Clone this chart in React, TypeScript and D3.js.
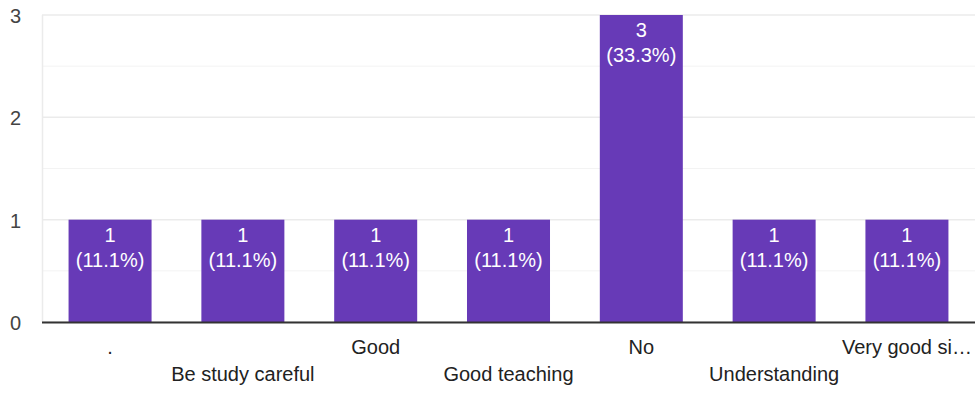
import React from "react";
import * as d3 from "d3";

const categories = [".", "Be study careful", "Good", "Good teaching", "No", "Understanding", "Very good si…"];
const values = [1, 1, 1, 1, 3, 1, 1];
const percents = ["11.1%", "11.1%", "11.1%", "11.1%", "33.3%", "11.1%", "11.1%"];
const yTicks = [0, 1, 2, 3];
const yMinor = [0.5, 1.5, 2.5];

const W = 976, H = 394;
const left = 42, right = 975, top = 15, bottom = 322;
const font = "'Liberation Sans', Arial, sans-serif";

export default function App() {
  const x = d3.scaleBand<string>().domain(categories).range([left, right]).paddingInner(0.375).paddingOuter(0.2);
  const y = d3.scaleLinear().domain([0, 3]).range([bottom, top]);
  return (
    <svg width={W} height={H} style={{ position: "absolute", left: 0, top: 0 }}>
      <rect width={W} height={H} fill="#fff" />
      {yMinor.map((t) => (
        <line key={"m" + t} x1={left} x2={right} y1={y(t)} y2={y(t)} stroke="#f3f3f3" strokeWidth={1} />
      ))}
      {yTicks.map((t) => (
        <line key={"g" + t} x1={left} x2={right} y1={y(t)} y2={y(t)} stroke="#ebebeb" strokeWidth={1.5} />
      ))}
      <line x1={left + 0.5} x2={left + 0.5} y1={top} y2={bottom} stroke="#ebebeb" strokeWidth={1.5} />
      {yTicks.map((t) => (
        <text key={"t" + t} x={21} y={y(t) + 8} textAnchor="end" fontFamily={font} fontSize={20} fill="#444">{t}</text>
      ))}
      {categories.map((c, i) => {
        const bx = x(c)!;
        const bw = x.bandwidth();
        const cx = bx + bw / 2;
        return (
          <g key={c}>
            <rect x={bx} y={y(values[i])} width={bw} height={y(0) - y(values[i])} fill="#673ab7" />
            <text x={cx} y={y(values[i]) + 22} textAnchor="middle" fontFamily={font} fontSize={20} fill="#fff">{values[i]}</text>
            <text x={cx} y={y(values[i]) + 47} textAnchor="middle" fontFamily={font} fontSize={20} fill="#fff">({percents[i]})</text>
            <text x={cx} y={i % 2 === 0 ? 354 : 381} textAnchor="middle" fontFamily={font} fontSize={20} fill="#222">{c}</text>
          </g>
        );
      })}
      <line x1={left} x2={right} y1={bottom + 0.5} y2={bottom + 0.5} stroke="#333" strokeWidth={2} />
    </svg>
  );
}
